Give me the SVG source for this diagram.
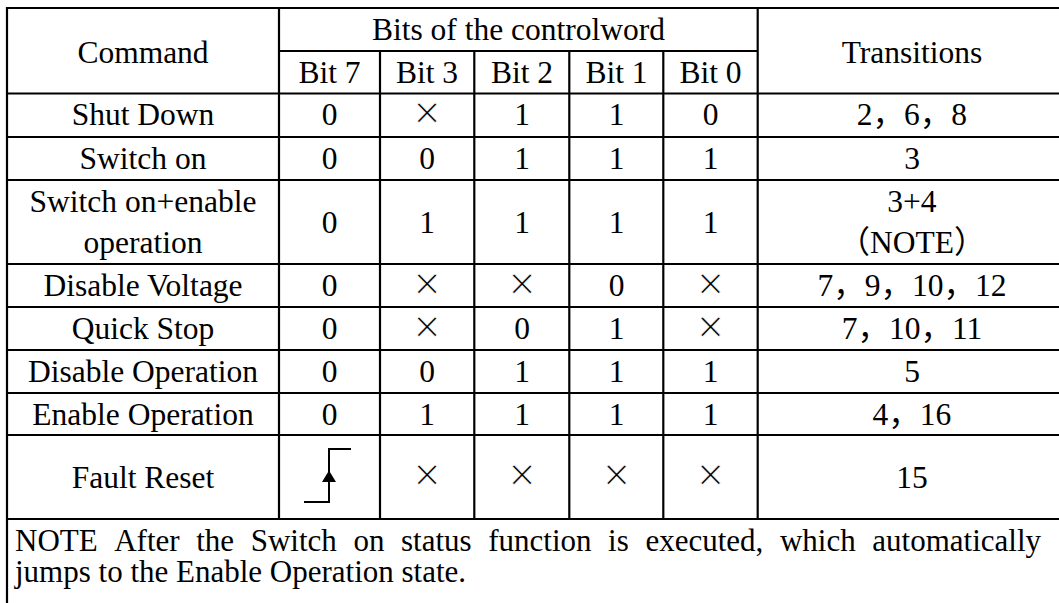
<svg xmlns="http://www.w3.org/2000/svg" width="1059" height="603" viewBox="0 0 1059 603">
  <style>
    .t { font-family: "Liberation Serif", "Noto Sans CJK SC", serif; font-size: 31.5px; fill: #000; text-anchor: middle; }
    .n { font-family: "Liberation Serif", "Noto Sans CJK SC", serif; font-size: 31px; fill: #000; }
    .x { font-family: "Liberation Serif", serif; font-size: 48px; fill: #000; stroke: #fff; stroke-width: 0.7px; text-anchor: middle; }
    .grid line { stroke: #000; stroke-width: 2.2; }
  </style>

  <rect width="1059" height="603" fill="#fff"/>

  <!-- table rules -->
  <g id="connectors" class="grid">
    <line x1="7" y1="8" x2="1059" y2="8"/>
    <line x1="279" y1="51" x2="758" y2="51"/>
    <line x1="7" y1="93.5" x2="1059" y2="93.5"/>
    <line x1="7" y1="137" x2="1059" y2="137"/>
    <line x1="7" y1="180" x2="1059" y2="180"/>
    <line x1="7" y1="264" x2="1059" y2="264"/>
    <line x1="7" y1="307" x2="1059" y2="307"/>
    <line x1="7" y1="350" x2="1059" y2="350"/>
    <line x1="7" y1="393" x2="1059" y2="393"/>
    <line x1="7" y1="435" x2="1059" y2="435"/>
    <line x1="7" y1="519" x2="1059" y2="519"/>
    <line x1="7" y1="7" x2="7" y2="603"/>
    <line x1="279" y1="8" x2="279" y2="519"/>
    <line x1="380" y1="51" x2="380" y2="519"/>
    <line x1="474.3" y1="51" x2="474.3" y2="519"/>
    <line x1="569.3" y1="51" x2="569.3" y2="519"/>
    <line x1="663.3" y1="51" x2="663.3" y2="519"/>
    <line x1="757.7" y1="8" x2="757.7" y2="519"/>
  </g>

  <g id="header">
    <text class="t" x="143" y="63">Command</text>
    <text class="t" x="518.5" y="40">Bits of the controlword</text>
    <text class="t" x="912" y="63">Transitions</text>
    <text class="t" x="329.5" y="83">Bit 7</text>
    <text class="t" x="427" y="83">Bit 3</text>
    <text class="t" x="522" y="83">Bit 2</text>
    <text class="t" x="616.5" y="83">Bit 1</text>
    <text class="t" x="710.5" y="83">Bit 0</text>
  </g>

  <g id="row-shut-down">
    <text class="t" x="143" y="125">Shut Down</text>
    <text class="t" x="329.5" y="125">0</text>
    <text class="x" x="427" y="129">×</text>
    <text class="t" x="522" y="125">1</text>
    <text class="t" x="616.5" y="125">1</text>
    <text class="t" x="710.5" y="125">0</text>
    <text class="t" x="912" y="125">2，6，8</text>
  </g>

  <g id="row-switch-on">
    <text class="t" x="143" y="168.5">Switch on</text>
    <text class="t" x="329.5" y="168.5">0</text>
    <text class="t" x="427" y="168.5">0</text>
    <text class="t" x="522" y="168.5">1</text>
    <text class="t" x="616.5" y="168.5">1</text>
    <text class="t" x="710.5" y="168.5">1</text>
    <text class="t" x="912" y="168.5">3</text>
  </g>

  <g id="row-switch-on-enable">
    <text class="t" x="143" y="212">Switch on+enable</text>
    <text class="t" x="143" y="252.5">operation</text>
    <text class="t" x="329.5" y="233">0</text>
    <text class="t" x="427" y="233">1</text>
    <text class="t" x="522" y="233">1</text>
    <text class="t" x="616.5" y="233">1</text>
    <text class="t" x="710.5" y="233">1</text>
    <text class="t" x="912" y="212">3+4</text>
    <text class="t" x="912" y="252.5">（NOTE）</text>
  </g>

  <g id="row-disable-voltage">
    <text class="t" x="143" y="296">Disable Voltage</text>
    <text class="t" x="329.5" y="296">0</text>
    <text class="x" x="427" y="299.5">×</text>
    <text class="x" x="522" y="299.5">×</text>
    <text class="t" x="616.5" y="296">0</text>
    <text class="x" x="710.5" y="299.5">×</text>
    <text class="t" x="912" y="296">7，9，10，12</text>
  </g>

  <g id="row-quick-stop">
    <text class="t" x="143" y="339">Quick Stop</text>
    <text class="t" x="329.5" y="339">0</text>
    <text class="x" x="427" y="342.5">×</text>
    <text class="t" x="522" y="339">0</text>
    <text class="t" x="616.5" y="339">1</text>
    <text class="x" x="710.5" y="342.5">×</text>
    <text class="t" x="912" y="339">7，10，11</text>
  </g>

  <g id="row-disable-operation">
    <text class="t" x="143" y="382">Disable Operation</text>
    <text class="t" x="329.5" y="382">0</text>
    <text class="t" x="427" y="382">0</text>
    <text class="t" x="522" y="382">1</text>
    <text class="t" x="616.5" y="382">1</text>
    <text class="t" x="710.5" y="382">1</text>
    <text class="t" x="912" y="382">5</text>
  </g>

  <g id="row-enable-operation">
    <text class="t" x="143" y="424.5">Enable Operation</text>
    <text class="t" x="329.5" y="424.5">0</text>
    <text class="t" x="427" y="424.5">1</text>
    <text class="t" x="522" y="424.5">1</text>
    <text class="t" x="616.5" y="424.5">1</text>
    <text class="t" x="710.5" y="424.5">1</text>
    <text class="t" x="912" y="424.5">4，16</text>
  </g>

  <g id="row-fault-reset">
    <text class="t" x="143" y="488">Fault Reset</text>
    <!-- rising edge symbol -->
    <path d="M304 502 H329 V449 H351" fill="none" stroke="#000" stroke-width="2"/>
    <polygon points="329,470.5 322,482 336,482" fill="#000"/>
    <text class="x" x="427" y="491">×</text>
    <text class="x" x="522" y="491">×</text>
    <text class="x" x="616.5" y="491">×</text>
    <text class="x" x="710.5" y="491">×</text>
    <text class="t" x="912" y="488">15</text>
  </g>

  <g id="note">
    <text class="n" y="551"><tspan x="15">NOTE</tspan><tspan x="114.2">After</tspan><tspan x="196.2">the</tspan><tspan x="250.7">Switch</tspan><tspan x="353.4">on</tspan><tspan x="401">status</tspan><tspan x="488.2">function</tspan><tspan x="608.1">is</tspan><tspan x="645.4">executed,</tspan><tspan x="779.9">which</tspan><tspan x="872.3">automatically</tspan></text>
    <text class="n" x="15" y="582">jumps to the Enable Operation state.</text>
  </g>
</svg>
